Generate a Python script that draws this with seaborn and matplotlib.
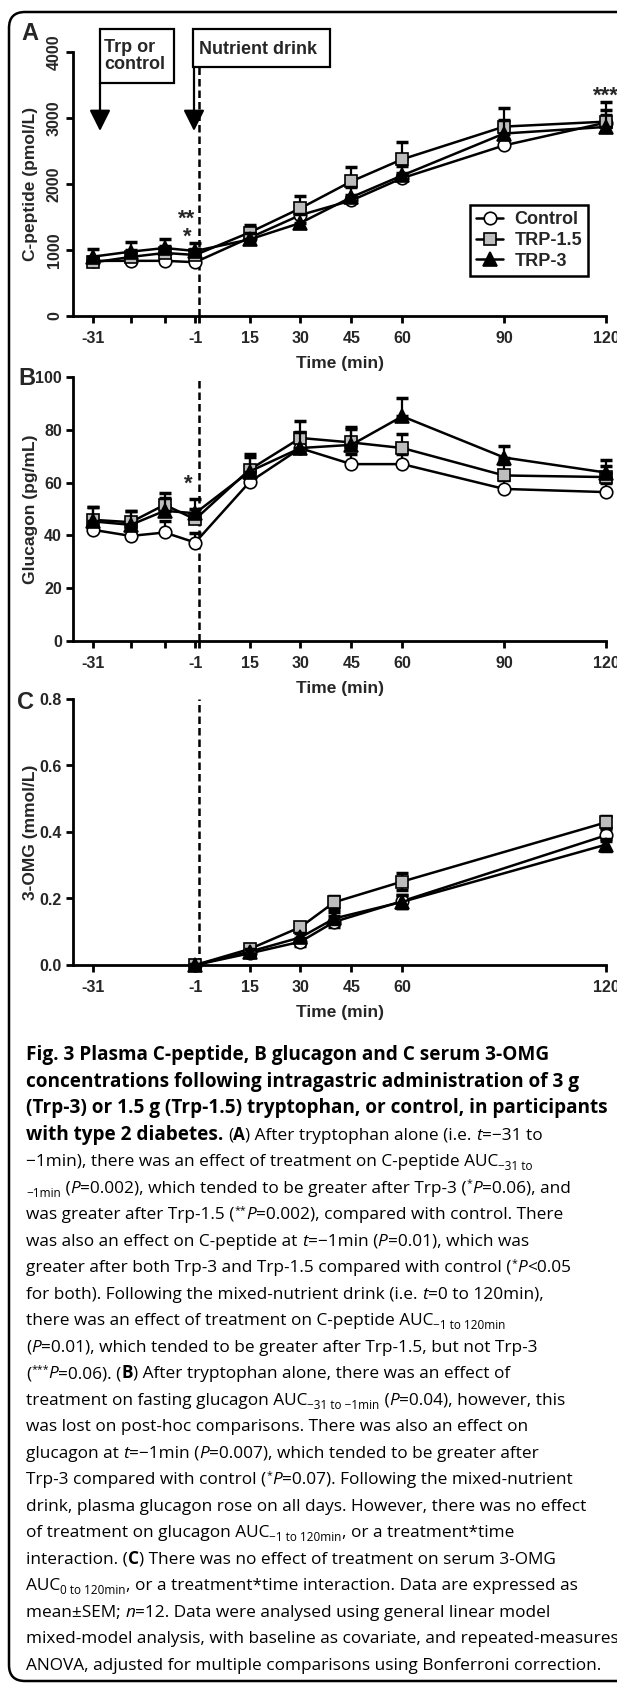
import numpy as np
import pandas as pd
import matplotlib
matplotlib.use("Agg")
import matplotlib.pyplot as plt
import seaborn as sns
from matplotlib.lines import Line2D
from matplotlib.patches import Rectangle, FancyBboxPatch, FancyArrowPatch
from matplotlib.transforms import IdentityTransform

# ---------------- data ----------------
groups = ["Control", "TRP-1.5", "TRP-3"]

time_ab = [-31, -20, -10, -1, 15, 30, 45, 60, 90, 120]
time_c = [-1, 15, 30, 40, 60, 120]

cpep_control = [835, 836, 836, 815, 1185, 1530, 1750, 2090, 2585, 2930]
cpep_trp15 = [812, 895, 955, 925, 1265, 1633, 2040, 2375, 2870, 2945]
cpep_trp3 = [900, 975, 1030, 985, 1160, 1410, 1800, 2130, 2765, 2865]
cpep_control_sem = [50, 50, 50, 50, 80, 100, 80, 80, 100, 120]
cpep_trp15_sem = [80, 100, 100, 90, 120, 180, 220, 265, 285, 300]
cpep_trp3_sem = [115, 150, 135, 120, 100, 130, 150, 150, 200, 260]

gluc_control = [42.1, 39.8, 41.1, 37.3, 60.2, 73.0, 67.0, 67.0, 57.6, 56.4]
gluc_trp15 = [45.9, 45.0, 51.6, 46.1, 64.9, 76.9, 75.2, 73.1, 62.7, 62.1]
gluc_trp3 = [45.3, 44.0, 49.3, 48.4, 64.2, 73.1, 74.3, 85.1, 69.5, 63.8]
gluc_control_sem = [3.5, 3.5, 4.2, 3.5, 4.0, 4.0, 4.0, 4.0, 3.5, 3.5]
gluc_trp15_sem = [4.7, 4.3, 4.4, 4.0, 5.9, 6.5, 5.7, 5.3, 4.5, 4.0]
gluc_trp3_sem = [5.3, 5.3, 5.0, 5.5, 5.5, 6.0, 6.0, 6.9, 4.2, 4.8]

omg_control = [0.0, 0.035, 0.070, 0.130, 0.192, 0.390]
omg_trp15 = [0.0, 0.048, 0.114, 0.189, 0.251, 0.429]
omg_trp3 = [0.0, 0.040, 0.083, 0.140, 0.190, 0.362]
omg_control_sem = [0.004, 0.008, 0.012, 0.017, 0.020, 0.018]
omg_trp15_sem = [0.004, 0.008, 0.010, 0.020, 0.025, 0.018]
omg_trp3_sem = [0.004, 0.008, 0.012, 0.018, 0.020, 0.018]

xticks_ab = [-31, -20, -10, -1, 0, 15, 30, 45, 60, 90, 120]
xticklabels_ab = ["-31", "", "", "-1", "", "15", "30", "45", "60", "90", "120"]
xticks_c = [-31, -1, 15, 30, 45, 60, 120]
xticklabels_c = ["-31", "-1", "15", "30", "45", "60", "120"]

# ---------------- style ----------------
sns.set_style("ticks")
plt.rcParams["font.family"] = ["Liberation Sans", "DejaVu Sans"]
plt.rcParams["font.weight"] = "bold"
plt.rcParams["axes.labelweight"] = "bold"
plt.rcParams["axes.linewidth"] = 2.0
plt.rcParams["axes.edgecolor"] = "black"

W, H = 617, 1685
fig = plt.figure(figsize=(W / 100, H / 100), dpi=100)
fig.patch.set_facecolor("white")


def fx(px):
    return px / W


def fy(py):
    return 1 - py / H


marker_style = {
    "Control": dict(marker="o", markersize=9, markerfacecolor="white"),
    "TRP-1.5": dict(marker="s", markersize=8.5, markerfacecolor="#bdbdbd"),
    "TRP-3": dict(marker="^", markersize=9.5, markerfacecolor="black"),
}

AX_L, AX_R = 73, 606


def make_axes(top, bottom):
    return fig.add_axes([fx(AX_L), fy(bottom), (AX_R - AX_L) / W, (bottom - top) / H])


def draw_series(ax, times, series, sems, upper_only):
    for i, (g, vals, sem) in enumerate(zip(groups, series, sems)):
        sem = np.asarray(sem, dtype=float)
        yerr = [np.zeros_like(sem), sem] if upper_only else sem
        ax.errorbar(times, vals, yerr=yerr, fmt="none", ecolor="black",
                    elinewidth=1.6, capsize=4.5, capthick=2.5,
                    zorder=2 + i, clip_on=False)
        df = pd.DataFrame({"time": times, "value": vals})
        sns.lineplot(data=df, x="time", y="value", ax=ax, color="black",
                     lw=1.8, markeredgecolor="black", markeredgewidth=1.2,
                     zorder=3 + i, clip_on=False, legend=False,
                     **marker_style[g])


def style_axes(ax, ylim, yticks, yticklabels, ylabel, xticks, xticklabels,
               rot_y=False):
    ax.set_xlim(-37, 120)
    ax.set_ylim(*ylim)
    sns.despine(ax=ax)
    ax.set_xticks(xticks)
    ax.set_xticklabels(xticklabels)
    ax.set_yticks(yticks)
    if rot_y:
        ax.set_yticklabels(yticklabels, rotation=90, va="center")
    else:
        ax.set_yticklabels(yticklabels)
    ax.tick_params(axis="both", length=5, width=2, direction="out",
                   labelsize=11.5, color="black")
    ax.tick_params(axis="x", pad=5.5)
    ax.tick_params(axis="y", pad=3)
    for lab in ax.get_xticklabels() + ax.get_yticklabels():
        lab.set_fontweight("bold")
    ax.set_xlabel("Time (min)", fontsize=12.5, fontweight="bold")
    ax.set_ylabel(ylabel, fontsize=12.5, fontweight="bold")
    ax.xaxis.set_label_coords(0.5, -0.152)
    ax.yaxis.set_label_coords(-0.066, 0.5)
    ax.set_facecolor("white")


# ---------------- panel A ----------------
axA = make_axes(52, 316)
draw_series(axA, time_ab, [cpep_control, cpep_trp15, cpep_trp3],
            [cpep_control_sem, cpep_trp15_sem, cpep_trp3_sem], True)
style_axes(axA, (0, 4000), [0, 1000, 2000, 3000, 4000],
           ["0", "1000", "2000", "3000", "4000"], "C-peptide (pmol/L)",
           xticks_ab, xticklabels_ab, rot_y=True)
axA.axvline(0, ymin=0, ymax=(316 - 67) / (316 - 52), color="black", lw=1.8,
            ls=(0, (3, 1.6)), zorder=1)
axA.text(-3.4, 1470, "**", fontsize=16, fontweight="bold", ha="center", va="center")
axA.text(-3.4, 1190, "*", fontsize=16, fontweight="bold", ha="center", va="center")
axA.text(120, 3330, "***", fontsize=16, fontweight="bold", ha="center",
         va="center", clip_on=False)

handles = [Line2D([], [], color="black", lw=1.8, markeredgecolor="black",
                  markeredgewidth=1.2, **marker_style[g]) for g in groups]
leg = axA.legend(handles, groups, loc="upper left",
                 bbox_to_anchor=(0.745, 0.42), frameon=True, fancybox=False,
                 edgecolor="black", framealpha=1,
                 prop={"weight": "bold", "size": 13}, handlelength=1.5,
                 handletextpad=0.6, labelspacing=0.2, borderpad=0.35,
                 borderaxespad=0)
leg.get_frame().set_linewidth(1.8)

# annotation boxes with arrows (figure pixel layout)
fig.add_artist(Rectangle((fx(100), fy(83)), (174 - 100) / W, (83 - 29) / H,
                         transform=fig.transFigure, fill=False,
                         edgecolor="black", lw=1.6))
fig.text(fx(104), fy(56), "Trp or\ncontrol", fontsize=13, fontweight="bold",
         ha="left", va="center", linespacing=1.05)
fig.add_artist(Rectangle((fx(193), fy(67)), (330 - 193) / W, (67 - 29) / H,
                         transform=fig.transFigure, fill=False,
                         edgecolor="black", lw=1.6))
fig.text(fx(199), fy(49), "Nutrient drink", fontsize=13, fontweight="bold",
         ha="left", va="center")
for ax_x, top in [(100, 83), (194, 67)]:
    fig.add_artist(FancyArrowPatch(
        (fx(ax_x), fy(top)), (fx(ax_x), fy(131)), transform=fig.transFigure,
        arrowstyle="-|>,head_length=8,head_width=4", lw=1.6, color="black",
        mutation_scale=1.6, shrinkA=0, shrinkB=0))

# ---------------- panel B ----------------
axB = make_axes(377, 641)
draw_series(axB, time_ab, [gluc_control, gluc_trp15, gluc_trp3],
            [gluc_control_sem, gluc_trp15_sem, gluc_trp3_sem], True)
style_axes(axB, (0, 100), [0, 20, 40, 60, 80, 100],
           ["0", "20", "40", "60", "80", "100"], "Glucagon (pg/mL)",
           xticks_ab, xticklabels_ab)
axB.axvline(0, color="black", lw=1.8, ls=(0, (3, 1.6)), zorder=1)
axB.text(-3.0, 59.5, "*", fontsize=16, fontweight="bold", ha="center", va="center")

# ---------------- panel C ----------------
axC = make_axes(699, 965)
draw_series(axC, time_c, [omg_control, omg_trp15, omg_trp3],
            [omg_control_sem, omg_trp15_sem, omg_trp3_sem], False)
style_axes(axC, (0, 0.8), [0, 0.2, 0.4, 0.6, 0.8],
           ["0.0", "0.2", "0.4", "0.6", "0.8"], "3-OMG (mmol/L)",
           xticks_c, xticklabels_c)
axC.axvline(0, color="black", lw=1.8, ls=(0, (3, 1.6)), zorder=1)

for letter, (px, py) in {"A": (30, 33), "B": (27, 378), "C": (26, 702)}.items():
    fig.text(fx(px), fy(py), letter, fontsize=17, fontweight="bold",
             ha="center", va="center")

# ---------------- rounded border ----------------
border = FancyBboxPatch((9, H - 1681), 700, 1681 - 12,
                        boxstyle="round,pad=0,rounding_size=16",
                        transform=IdentityTransform(), fill=False,
                        edgecolor="black", lw=1.8)
fig.add_artist(border)

# ---------------- caption ----------------
caption = [
    [("Fig. 3 Plasma C-peptide, B glucagon and C serum 3-OMG", "T")],
    [("concentrations following intragastric administration of 3 g", "T")],
    [("(Trp-3) or 1.5 g (Trp-1.5) tryptophan, or control, in participants", "T")],
    [("with type 2 diabetes. ", "T"), ("(", "R"), ("A", "B"),
     (") After tryptophan alone (i.e. ", "R"), ("t", "I"), ("=\u221231 to", "R")],
    [("\u22121min), there was an effect of treatment on C-peptide AUC", "R"),
     ("\u221231 to", "S")],
    [("\u22121min", "S"), (" (", "R"), ("P", "I"),
     ("=0.002), which tended to be greater after Trp-3 (", "R"), ("*", "U"),
     ("P", "I"), ("=0.06), and", "R")],
    [("was greater after Trp-1.5 (", "R"), ("**", "U"), ("P", "I"),
     ("=0.002), compared with control. There", "R")],
    [("was also an effect on C-peptide at ", "R"), ("t", "I"),
     ("=\u22121min (", "R"), ("P", "I"), ("=0.01), which was", "R")],
    [("greater after both Trp-3 and Trp-1.5 compared with control (", "R"),
     ("*", "U"), ("P", "I"), ("<0.05", "R")],
    [("for both). Following the mixed-nutrient drink (i.e. ", "R"), ("t", "I"),
     ("=0 to 120min),", "R")],
    [("there was an effect of treatment on C-peptide AUC", "R"),
     ("\u22121 to 120min", "S")],
    [("(", "R"), ("P", "I"),
     ("=0.01), which tended to be greater after Trp-1.5, but not Trp-3", "R")],
    [("(", "R"), ("***", "U"), ("P", "I"), ("=0.06). (", "R"), ("B", "B"),
     (") After tryptophan alone, there was an effect of", "R")],
    [("treatment on fasting glucagon AUC", "R"), ("\u221231 to \u22121min", "S"),
     (" (", "R"), ("P", "I"), ("=0.04), however, this", "R")],
    [("was lost on post-hoc comparisons. There was also an effect on", "R")],
    [("glucagon at ", "R"), ("t", "I"), ("=\u22121min (", "R"), ("P", "I"),
     ("=0.007), which tended to be greater after", "R")],
    [("Trp-3 compared with control (", "R"), ("*", "U"), ("P", "I"),
     ("=0.07). Following the mixed-nutrient", "R")],
    [("drink, plasma glucagon rose on all days. However, there was no effect", "R")],
    [("of treatment on glucagon AUC", "R"), ("\u22121 to 120min", "S"),
     (", or a treatment*time", "R")],
    [("interaction. (", "R"), ("C", "B"),
     (") There was no effect of treatment on serum 3-OMG", "R")],
    [("AUC", "R"), ("0 to 120min", "S"),
     (", or a treatment*time interaction. Data are expressed as", "R")],
    [("mean\u00b1SEM; ", "R"), ("n", "I"),
     ("=12. Data were analysed using general linear model", "R")],
    [("mixed-model analysis, with baseline as covariate, and repeated-measures", "R")],
    [("ANOVA, adjusted for multiple comparisons using Bonferroni correction.", "R")],
]

cap_family = ["Open Sans", "DejaVu Sans"]
renderer = fig.canvas.get_renderer()


def run_props(kind, ts, bs):
    if kind == "T":
        return dict(fontsize=ts, fontweight="bold", fontstyle="normal"), 0
    if kind == "B":
        return dict(fontsize=bs, fontweight="bold", fontstyle="normal"), 0
    if kind == "I":
        return dict(fontsize=bs, fontweight="normal", fontstyle="italic"), 0
    if kind == "S":
        return dict(fontsize=bs * 0.68, fontweight="normal", fontstyle="normal"), 4
    if kind == "U":
        return dict(fontsize=bs * 0.62, fontweight="normal", fontstyle="normal"), -6
    return dict(fontsize=bs, fontweight="normal", fontstyle="normal"), 0


def text_width(s, props):
    t = fig.text(0, 0, "|" + s + "|", family=cap_family, **props)
    w = t.get_window_extent(renderer).width
    t.set_text("||")
    w2 = t.get_window_extent(renderer).width
    t.remove()
    return w - w2


def line_width(runs, ts, bs):
    return sum(text_width(s, run_props(k, ts, bs)[0]) for s, k in runs)


title_size = 10 * 583 / line_width(caption[2], 10, 10)
body_size = 10 * 590 / line_width(caption[22], 10, 10)

X0 = 26
for i, runs in enumerate(caption):
    base = 1060 + i * (1670 - 1060) / 23
    x = X0
    for s, k in runs:
        props, dy = run_props(k, title_size, body_size)
        fig.text(fx(x), fy(base + dy), s, family=cap_family, ha="left",
                 va="baseline", color="black", **props)
        x += text_width(s, props)

fig.savefig("out.png", dpi=100, facecolor="white")
